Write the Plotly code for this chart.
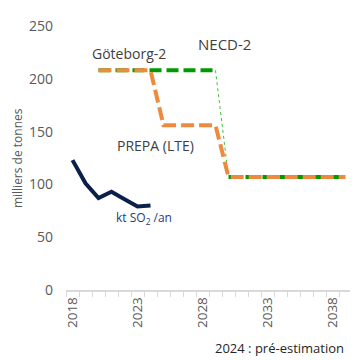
import plotly.graph_objects as go

years_hist = [2018, 2019, 2020, 2021, 2022, 2023, 2024]
so2_hist = [123, 101, 87, 93, 86, 79, 80]

years_proj = list(range(2020, 2040))
prepa = [208]*5 + [156]*5 + [107]*10
necd_a_years = list(range(2020, 2030))
necd_a = [208]*10
necd_link_years = [2029, 2030]
necd_link = [208, 107]
necd_b_years = list(range(2030, 2040))
necd_b = [107]*10

tick_years = [2018, 2023, 2028, 2033, 2038]
tick_labels = [str(y) for y in tick_years]

ORANGE = "#EE8A3F"
GREEN = "#009A00"
NAVY = "#0B1F4B"
GRAY = "#595959"
FONT = "Open Sans, Liberation Sans, sans-serif"

fig = go.Figure()
fig.add_trace(go.Scatter(x=necd_a_years, y=necd_a, mode="lines",
                         line=dict(color=GREEN, width=4, dash="12px,5px"), hoverinfo="skip"))
fig.add_trace(go.Scatter(x=necd_link_years, y=necd_link, mode="lines",
                         line=dict(color="#3FBF3F", width=1, dash="dot"), hoverinfo="skip"))
fig.add_trace(go.Scatter(x=necd_b_years, y=necd_b, mode="lines",
                         line=dict(color=GREEN, width=4, dash="12px,5px"), hoverinfo="skip"))
fig.add_trace(go.Scatter(x=years_proj, y=prepa, mode="lines",
                         line=dict(color=ORANGE, width=4, dash="13px,5px"), hoverinfo="skip"))
fig.add_trace(go.Scatter(x=years_hist, y=so2_hist, mode="lines",
                         line=dict(color=NAVY, width=4), hoverinfo="skip"))

ann_font = dict(family=FONT, size=14, color="#404040")
fig.add_annotation(x=2022.35, y=224, text="Göteborg-2", showarrow=False, font=ann_font)
fig.add_annotation(x=2029.7, y=233, text="NECD-2", showarrow=False,
                   font=dict(family=FONT, size=15, color="#404040"))
fig.add_annotation(x=2024.4, y=137, text="PREPA (LTE)", showarrow=False, font=ann_font)
fig.add_annotation(x=2023.5, y=68, text="kt SO<sub>2</sub> /an", showarrow=False,
                   font=dict(family=FONT, size=12, color="#1F3C7A"))
fig.add_annotation(xref="paper", yref="paper", x=0.979, y=-0.22, xanchor="right",
                   yanchor="middle",
                   text="2024 : pré-estimation", showarrow=False,
                   font=dict(family=FONT, size=13, color="#262626"))
fig.add_annotation(xref="paper", yref="paper", x=-0.171, y=0.5, textangle=-90,
                   xanchor="center", yanchor="middle",
                   text="milliers de tonnes", showarrow=False,
                   font=dict(family=FONT, size=12, color=GRAY))

# page body has an 8px default margin: compensate so the plot lands where the reference has it
fig.update_layout(
    width=350, height=352,
    margin=dict(l=58, r=6, t=18, b=70),
    paper_bgcolor="white", plot_bgcolor="white",
    showlegend=False,
    font=dict(family=FONT, color=GRAY, size=14),
    xaxis=dict(range=[2017.5, 2039.5], tickvals=tick_years, ticktext=tick_labels,
               tickangle=-90, showgrid=False, zeroline=False,
               showline=True, linecolor="#D9D9D9", linewidth=1.5,
               ticks="", tickfont=dict(size=13.5, color=GRAY),
               minor=dict(tick0=2017.5, dtick=1, ticks="outside", ticklen=5,
                          tickcolor="#D9D9D9", tickwidth=1, showgrid=False)),
    yaxis=dict(range=[0, 250], tickvals=[0, 50, 100, 150, 200, 250],
               showgrid=False, zeroline=False, showline=False,
               ticks="", ticklabelstandoff=12, tickfont=dict(size=14, color=GRAY)),
)

fig.write_html("out.html")
